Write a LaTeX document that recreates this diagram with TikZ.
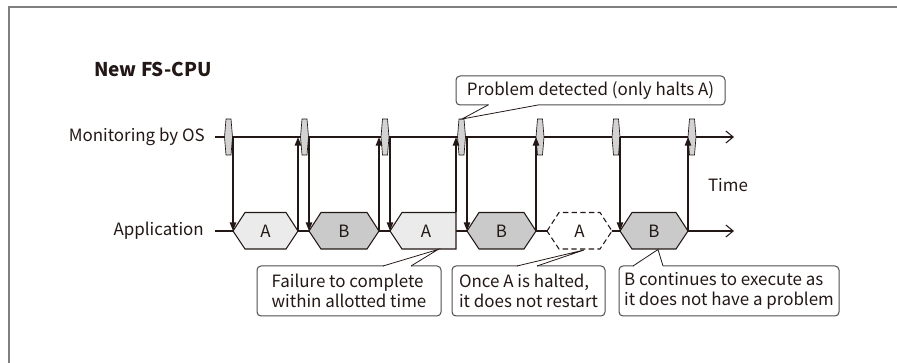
\documentclass[tikz,border=0pt]{standalone}
\usepackage{fontspec}
\setmainfont{Noto Sans CJK JP}
\usetikzlibrary{arrows.meta}

\definecolor{ink}{HTML}{231815}
\definecolor{fillA}{HTML}{EBEBEB}
\definecolor{fillB}{HTML}{C9CAC9}
\definecolor{tickfill}{HTML}{D3D3D3}
\definecolor{framegray}{HTML}{7F7F7F}
\definecolor{boxgray}{HTML}{4D4D4D}

\tikzset{
  txt/.style={font=\fontsize{12.7pt}{15pt}\selectfont, text=ink, inner sep=0pt},
  frameline/.style={draw=framegray, line width=1.1pt},
  axis/.style={draw=ink, line width=0.8pt, -{Straight Barb[length=5.5pt,width=9pt,line width=0.8pt]}},
  sig/.style={draw=ink, line width=1.1pt, -{Triangle[length=6.5pt,width=4.8pt]}},
  tickmark/.style={draw=ink, fill=tickfill, line width=0.5pt},
  hexA/.style={draw=ink, fill=fillA, line width=0.8pt},
  hexB/.style={draw=ink, fill=fillB, line width=0.8pt},
  hexHalt/.style={draw=ink, fill=white, line width=0.8pt, dash pattern=on 4pt off 2.5pt},
  callout/.style={txt, draw=boxgray, fill=white, line width=0.75pt, rounded corners=3pt,
                  align=left, inner sep=0pt},
  pointer/.style={draw=ink, line width=0.6pt},
}

% application task: style, left vertex x, right vertex x, name, label
\newcommand{\apphex}[5]{%
  \draw[#1] (#2,231) -- (#2+12,212.5) -- (#3-12,212.5) -- (#3,231)
            -- (#3-12,249) -- (#2+12,249) -- cycle;
  \node[txt] (#4) at ({(#2+#3)/2},231) {#5};
  \coordinate (#4-w) at (#2,231);
  \coordinate (#4-e) at (#3,231);
}
% monitoring instant on the OS line
\newcommand{\osmark}[2]{%
  \draw[tickmark] (#1-2.5,119) -- (#1+2.5,119) -- (#1+4,137) -- (#1+2.5,155)
                  -- (#1-2.5,155) -- (#1-4,137) -- cycle;
  \coordinate (#2) at (#1,137);
}
% callout wedge: base x1, base x2 on edge y, tip x, tip y (opens the edge between the bases)
\newcommand{\calloutwedge}[5]{%
  \fill[white] (#1+0.5,#3-1.6) rectangle (#2-0.5,#3+1.6);
  \draw[pointer] (#1,#3) -- (#4,#5) -- (#2,#3);
}

\begin{document}
\begin{tikzpicture}[x=0.75pt,y=-0.75pt]
\useasboundingbox (0,0) rectangle (897,363);

% outer frame (continues past the right and bottom edges)
\draw[frameline] (9,363) -- (9,7) -- (897,7);

% title
\node[txt, anchor=west, font=\fontsize{14.2pt}{17pt}\selectfont\bfseries] (title) at (94,69) {New FS-CPU};

% time lines
\coordinate (os0) at (215,137);
\coordinate (os1) at (734,137);
\coordinate (ap0) at (215,231);
\coordinate (ap1) at (734,231);
\node[txt, anchor=east] (oslabel) at (205,137) {Monitoring by OS};
\node[txt, anchor=east] (aplabel) at (204,231) {Application};
\node[txt] (time) at (728,185) {Time};
\draw[axis] (os0) -- (os1);
\draw[axis] (ap0) -- (ap1);

% application tasks
\apphex{hexA}{233}{298}{a1}{A}
\apphex{hexB}{309}{379}{b1}{B}
% second A run, cut off at the deadline
\draw[hexA] (390,231) -- (402,212.5) -- (456,212.5) -- (456,249) -- (402,249) -- cycle;
\node[txt] (a2) at (426,231) {A};
\coordinate (a2-w) at (390,231);
\coordinate (a2-ne) at (456,212.5);
\apphex{hexB}{467}{536}{b2}{B}
\apphex{hexHalt}{547}{612}{a3}{A}
\apphex{hexB}{620}{688}{b3}{B}

% monitoring instants
\osmark{228.5}{t1}
\osmark{304.5}{t2}
\osmark{385}{t3}
\osmark{461.5}{t4}
\osmark{540}{t5}
\osmark{616}{t6}
\osmark{692}{t7}

% dispatch (down) and completion (up) signals
\coordinate (d1) at (233,137);
\coordinate (d2) at (309,137);
\coordinate (d3) at (390,137);
\coordinate (d4) at (467,137);
\coordinate (d6) at (620,137);
\coordinate (u1) at (298,137);
\coordinate (u2) at (379,137);
\coordinate (u3) at (456,137);
\coordinate (u4) at (536,137);
\coordinate (u6) at (688,137);
\draw[sig] (d1) -- (a1-w);
\draw[sig] (d2) -- (b1-w);
\draw[sig] (d3) -- (a2-w);
\draw[sig] (d4) -- (b2-w);
\draw[sig] (d6) -- (b3-w);
\draw[sig] (a1-e) -- (u1);
\draw[sig] (b1-e) -- (u2);
\draw[sig] (a2-ne) -- (u3);
\draw[sig] (b2-e) -- (u4);
\draw[sig] (b3-e) -- (u6);

% callouts
\node[callout, minimum width=201.75pt, minimum height=21.75pt] (c1) at (590.5,90.5)
  {Problem detected (only halts A)};
\node[callout, minimum width=138pt, minimum height=37.5pt] (c2) at (349,291)
  {Failure to complete\\within allotted time};
\node[callout, minimum width=114.75pt, minimum height=37.5pt] (c3) at (528.5,291)
  {Once A is halted,\\it does not restart};
\node[callout, minimum width=165pt, minimum height=37.5pt] (c4) at (729,291)
  {B continues to execute as\\it does not have a problem};

\calloutwedge{488}{538}{105}{462}{119}
\calloutwedge{383}{411}{266}{438}{249.5}
\calloutwedge{517}{537}{266}{584}{250}
\calloutwedge{633}{663}{266}{658}{249.5}
\end{tikzpicture}
\end{document}
